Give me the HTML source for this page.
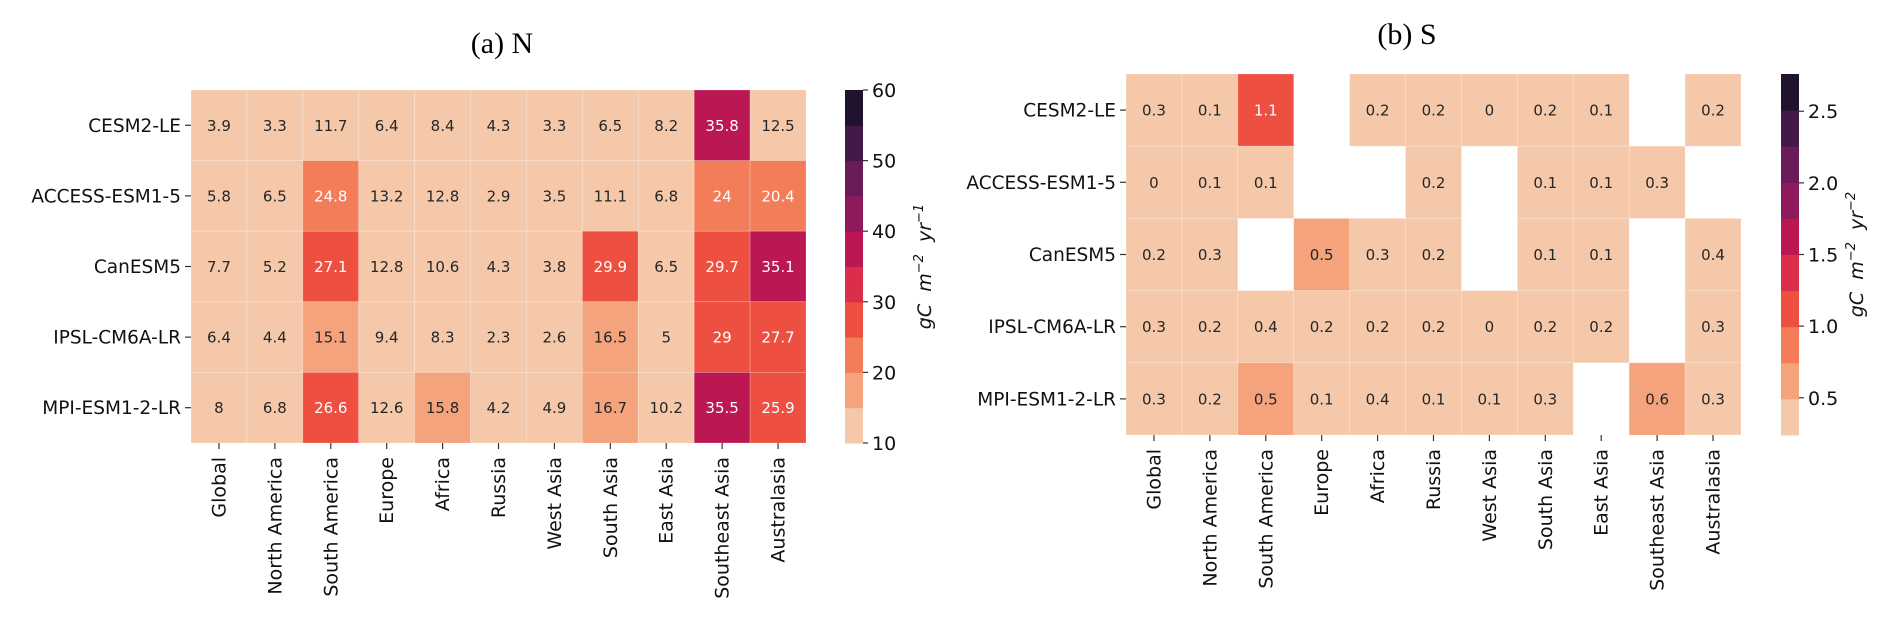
<!DOCTYPE html>
<html><head><meta charset="utf-8"><style>
html,body{margin:0;padding:0;background:#fff;}
svg{display:block;font-family:"DejaVu Sans","Liberation Sans",sans-serif;}
</style></head><body>
<svg id="chart" width="1892" height="621" viewBox="0 0 1892 621" xmlns="http://www.w3.org/2000/svg">
<text x="502" y="53" font-family="Liberation Serif, serif" font-size="30" text-anchor="middle">(a) N</text>
<text x="1407" y="44" font-family="Liberation Serif, serif" font-size="30" text-anchor="middle">(b) S</text>
</svg>
<script>
const regions = ["Global","North America","South America","Europe","Africa","Russia","West Asia","South Asia","East Asia","Southeast Asia","Australasia"];
const models = ["CESM2-LE","ACCESS-ESM1-5","CanESM5","IPSL-CM6A-LR","MPI-ESM1-2-LR"];
const valuesN = [
 [3.9,3.3,11.7,6.4,8.4,4.3,3.3,6.5,8.2,35.8,12.5],
 [5.8,6.5,24.8,13.2,12.8,2.9,3.5,11.1,6.8,24,20.4],
 [7.7,5.2,27.1,12.8,10.6,4.3,3.8,29.9,6.5,29.7,35.1],
 [6.4,4.4,15.1,9.4,8.3,2.3,2.6,16.5,5,29,27.7],
 [8,6.8,26.6,12.6,15.8,4.2,4.9,16.7,10.2,35.5,25.9]
];
const valuesS = [
 [0.3,0.1,1.1,null,0.2,0.2,0,0.2,0.1,null,0.2],
 [0,0.1,0.1,null,null,0.2,null,0.1,0.1,0.3,null],
 [0.2,0.3,null,0.5,0.3,0.2,null,0.1,0.1,null,0.4],
 [0.3,0.2,0.4,0.2,0.2,0.2,0,0.2,0.2,null,0.3],
 [0.3,0.2,0.5,0.1,0.4,0.1,0.1,0.3,null,0.6,0.3]
];
const ticksN = [10,20,30,40,50,60];
const ticksS = [0.5,1.0,1.5,2.0,2.5];
const palette = ["#f5c8aa","#f4a37c","#f27d58","#ed5040","#db2e4a","#bb1752","#8e1a5c","#6a1b5a","#45184a","#21132e"];

const NS="http://www.w3.org/2000/svg";
const svg=document.getElementById('chart');
function mk(tag,attrs,parent){const e=document.createElementNS(NS,tag);for(const k in attrs)e.setAttribute(k,attrs[k]);(parent||svg).appendChild(e);return e;}

function panel(o){
  const g=mk('g',{});
  
  
  const cw=(o.x1-o.x0)/regions.length, rh=(o.y1-o.y0)/models.length;
  const xs=i=>o.x0+cw*i, ys=j=>o.y0+rh*j;
  const cy=v=>o.y1-(v-o.vmin)/(o.vmax-o.vmin)*(o.y1-o.y0);
  const bin=v=>Math.max(0,Math.min(9,Math.floor((v-o.vmin)/(o.vmax-o.vmin)*10)));
  o.data.forEach((row,j)=>row.forEach((v,i)=>{
    if(v===null)return;
    const b=bin(v);
    const r=mk('rect',{x:xs(i),y:ys(j),width:cw,height:rh,fill:palette[b],stroke:'rgba(255,255,255,0.25)','stroke-width':0.8},g);
    
    
    const t=mk('text',{x:xs(i)+cw/2,y:ys(j)+rh/2+5.5,'text-anchor':'middle','font-size':15,fill:b>=2?'#ffffff':'#262626'},g);
    t.textContent=String(v);
    
    
  }));
  models.forEach((m,j)=>{
    const y=ys(j)+rh/2;
    mk('line',{x1:o.x0-6,x2:o.x0,y1:y,y2:y,stroke:'#333','stroke-width':1.2},g);
    const t=mk('text',{x:o.x0-10,y:y+6.5,'text-anchor':'end','font-size':18.5,fill:'#111'},g);
    t.textContent=m;
    
    
  });
  regions.forEach((r,i)=>{
    const x=xs(i)+cw/2;
    mk('line',{x1:x,x2:x,y1:o.y1,y2:o.y1+6,stroke:'#333','stroke-width':1.2},g);
    const t=mk('text',{transform:`translate(${x+6.5},${o.y1+14}) rotate(-90)`,'text-anchor':'end','font-size':19,fill:'#111'},g);
    t.textContent=r;
    
    
  });
  const cb=mk('g',{},g);
  
  
  for(let k=0;k<10;k++){
    const h=(o.y1-o.y0)/10;
    mk('rect',{x:o.cbx,y:o.y1-h*(k+1),width:18,height:h+0.5,fill:palette[k]},cb);
  }
  o.ticks.forEach(v=>{
    const y=cy(v);
    mk('line',{x1:o.cbx+18,x2:o.cbx+23,y1:y,y2:y,stroke:'#333','stroke-width':1.2},cb);
    const t=mk('text',{x:o.cbx+27,y:y+7,'font-size':19,fill:'#111'},cb);
    t.textContent=o.fmt(v);
    
    
  });
  const lab=mk('text',{transform:`translate(${o.labx},${(o.y0+o.y1)/2}) rotate(-90)`,'text-anchor':'middle','font-size':19,'font-style':'italic',fill:'#111'},cb);
  lab.innerHTML='gC&#160;&#160;m<tspan dy="-8" font-size="13">−2</tspan><tspan dy="8">&#160;&#160;yr</tspan><tspan dy="-8" font-size="13">'+o.exp+'</tspan>';
  
  
}
panel({name:'heatmap-n',data:valuesN,x0:191,x1:806,y0:90,y1:443,vmin:10,vmax:60,cbx:845,ticks:ticksN,fmt:v=>String(v),labx:931,exp:'−1'});
panel({name:'heatmap-s',data:valuesS,x0:1126,x1:1741,y0:74,y1:435,vmin:0.24,vmax:2.76,cbx:1781,ticks:ticksS,fmt:v=>v.toFixed(1),labx:1863,exp:'−2'});
</script>
</body></html>
